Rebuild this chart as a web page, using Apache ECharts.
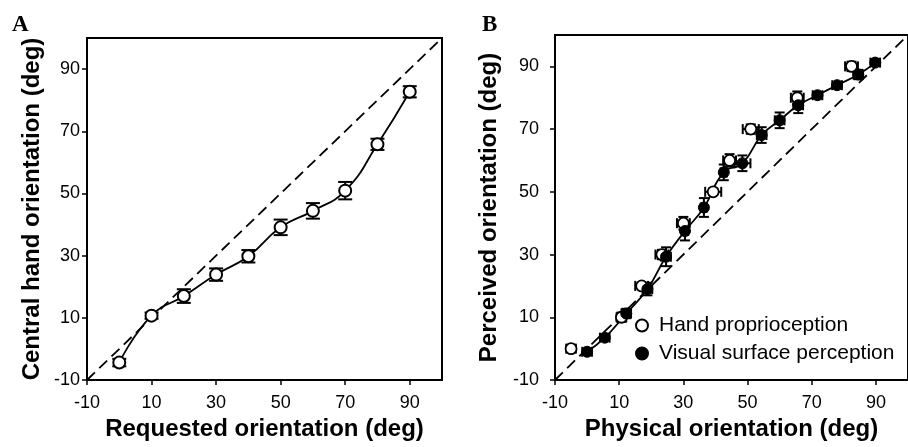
<!DOCTYPE html>
<html>
<head>
<meta charset="utf-8">
<script src="https://cdn.jsdelivr.net/npm/echarts@6/dist/echarts.min.js"></script>
<style>
  html, body { margin: 0; padding: 0; background: #fff; }
  #chart { width: 908px; height: 447px; }
</style>
</head>
<body>
<div id="chart"></div>
<script>
// panel A: requested vs central hand orientation
const requestedX = [0, 10, 20, 30, 40, 50, 60, 70, 80, 90]
const centralY = [-4.4, 10.7, 17, 23.9, 29.8, 39.1, 44.4, 50.9, 65.8, 82.7]
const centralErr = [1.2, 1, 2.2, 2, 2, 2.5, 2.5, 2.8, 1.8, 1.8]

// panel B: physical vs perceived orientation
const handX = [-5, 10.7, 17, 23.3, 30, 39.3, 44.4, 51, 65.5, 82.4]
const handY = [0, 10, 20, 30, 40, 50, 60, 70, 80, 90]
const handXErr = [1.5, 1.5, 2, 2, 2, 2.5, 2, 2.5, 2, 2]
const handYErr = [1, 1.5, 1, 1.5, 2, 1, 2, 1.5, 2, 1.5]

const visualX = [0, 5.5, 12.2, 18.8, 24.6, 30.5, 36.4, 42.6, 48.4, 54.4, 60, 65.8, 71.8, 77.9, 84.5, 89.8]
const visualY = [-1, 3.5, 11.2, 19, 29.3, 37.5, 45, 56.2, 59.1, 68.1, 72.8, 77.6, 80.8, 84, 87.4, 91.2]
const visualXErr = [1.5, 1.5, 1.5, 1.5, 1.5, 1, 1, 1, 2.5, 1.5, 1.5, 1.5, 1.5, 1.5, 1.5, 1.5]
const visualYErr = [1, 1, 1.5, 2, 3, 3, 3, 2.5, 2.5, 2.5, 2.5, 2.5, 1, 1, 1.5, 1]

const tickValues = [-10, 10, 30, 50, 70, 90]
const identity = [[-10, -10], [100, 100]]

const zip = (xs, ys) => xs.map((x, i) => [x, ys[i]])
const zipErr = (xs, ys, xe, ye) => xs.map((x, i) => [x, ys[i], xe[i], ye[i]])

function errorBars(cap) {
  return function (params, api) {
    const x = api.value(0), y = api.value(1)
    const xe = api.value(2), ye = api.value(3)
    const style = { stroke: '#000', lineWidth: 2 }
    const kids = []
    if (ye > 0) {
      const top = api.coord([x, y + ye])
      const bot = api.coord([x, y - ye])
      kids.push(
        { type: 'line', shape: { x1: top[0], y1: top[1], x2: bot[0], y2: bot[1] }, style },
        { type: 'line', shape: { x1: top[0] - cap, y1: top[1], x2: top[0] + cap, y2: top[1] }, style },
        { type: 'line', shape: { x1: bot[0] - cap, y1: bot[1], x2: bot[0] + cap, y2: bot[1] }, style }
      )
    }
    if (xe > 0) {
      const l = api.coord([x - xe, y])
      const r = api.coord([x + xe, y])
      kids.push(
        { type: 'line', shape: { x1: l[0], y1: l[1], x2: r[0], y2: r[1] }, style },
        { type: 'line', shape: { x1: l[0], y1: l[1] - cap, x2: l[0], y2: l[1] + cap }, style },
        { type: 'line', shape: { x1: r[0], y1: r[1] - cap, x2: r[0], y2: r[1] + cap }, style }
      )
    }
    return { type: 'group', children: kids }
  }
}

function valueAxis(gridIndex, name, nameGap, labelMargin) {
  return {
    type: 'value',
    gridIndex,
    min: -10,
    max: 100,
    name,
    nameLocation: 'middle',
    nameGap,
    nameTextStyle: { fontFamily: 'Liberation Sans', fontWeight: 'bold', fontSize: 24, color: '#000' },
    axisLine: { show: true, onZero: false, lineStyle: { color: '#000', width: 2 } },
    axisTick: { show: true, length: 5, customValues: tickValues, lineStyle: { color: '#000', width: 1.5 } },
    axisLabel: { customValues: tickValues, margin: labelMargin, fontFamily: 'Liberation Sans', fontSize: 18, color: '#000' },
    splitLine: { show: false }
  }
}

const chart = echarts.init(document.getElementById('chart'))

const dashStyle = { color: '#000', width: 1.8, type: [11, 6] }

chart.setOption({
  animation: false,
  backgroundColor: '#fff',
  graphic: [
    { type: 'text', left: 12, top: 14, style: { text: 'A', font: 'bold 23px "Liberation Serif"', fill: '#000' } },
    { type: 'text', left: 482, top: 14, style: { text: 'B', font: 'bold 23px "Liberation Serif"', fill: '#000' } }
  ],
  legend: {
    data: ['Hand proprioception', 'Visual surface perception'],
    orient: 'vertical',
    left: 630,
    top: 310,
    itemWidth: 12,
    itemHeight: 12,
    itemGap: 7,
    icon: 'circle',
    textStyle: { fontFamily: 'Liberation Sans', fontSize: 21, color: '#000', padding: [0, 0, 0, 6] }
  },
  grid: [
    { left: 87, top: 38, width: 355, height: 342, show: true, borderColor: '#000', borderWidth: 2 },
    { left: 555, top: 35, width: 363, height: 345, show: true, borderColor: '#000', borderWidth: 2 }
  ],
  xAxis: [
    valueAxis(0, 'Requested orientation (deg)', 33, 14),
    valueAxis(1, 'Physical orientation (deg)', 33, 14)
  ],
  yAxis: [
    valueAxis(0, 'Central hand orientation (deg)', 43, 7),
    valueAxis(1, 'Perceived orientation (deg)', 54, 16)
  ],
  series: [
    // panel A
    {
      type: 'line', xAxisIndex: 0, yAxisIndex: 0, data: identity,
      symbol: 'none', lineStyle: dashStyle, silent: true, z: 1
    },
    {
      type: 'line', xAxisIndex: 0, yAxisIndex: 0, data: zip(requestedX, centralY),
      smooth: 0.5, symbol: 'none', lineStyle: { color: '#000', width: 1.8 }, z: 2
    },
    {
      type: 'custom', xAxisIndex: 0, yAxisIndex: 0,
      data: zipErr(requestedX, centralY, requestedX.map(() => 0), centralErr),
      renderItem: errorBars(7), z: 3
    },
    {
      type: 'scatter', xAxisIndex: 0, yAxisIndex: 0, data: zip(requestedX, centralY),
      symbol: 'circle', symbolSize: 12,
      itemStyle: { color: '#fff', borderColor: '#000', borderWidth: 2, opacity: 1 }, z: 4
    },
    // panel B
    {
      type: 'line', xAxisIndex: 1, yAxisIndex: 1, data: identity,
      symbol: 'none', lineStyle: dashStyle, silent: true, z: 1
    },
    {
      type: 'line', xAxisIndex: 1, yAxisIndex: 1, data: zip(visualX, visualY),
      smooth: 0.5, symbol: 'none', lineStyle: { color: '#000', width: 1.8 }, z: 2
    },
    {
      type: 'custom', xAxisIndex: 1, yAxisIndex: 1,
      data: zipErr(handX, handY, handXErr, handYErr),
      renderItem: errorBars(5), z: 3
    },
    {
      type: 'custom', xAxisIndex: 1, yAxisIndex: 1,
      data: zipErr(visualX, visualY, visualXErr, visualYErr),
      renderItem: errorBars(5), z: 3
    },
    {
      name: 'Hand proprioception',
      type: 'scatter', xAxisIndex: 1, yAxisIndex: 1, data: zip(handX, handY),
      symbol: 'circle', symbolSize: 11,
      itemStyle: { color: '#fff', borderColor: '#000', borderWidth: 1.8, opacity: 1 }, z: 4
    },
    {
      name: 'Visual surface perception',
      type: 'scatter', xAxisIndex: 1, yAxisIndex: 1, data: zip(visualX, visualY),
      symbol: 'circle', symbolSize: 11,
      itemStyle: { color: '#000', borderColor: '#000', borderWidth: 1, opacity: 1 }, z: 5
    }
  ]
})
</script>
</body>
</html>
